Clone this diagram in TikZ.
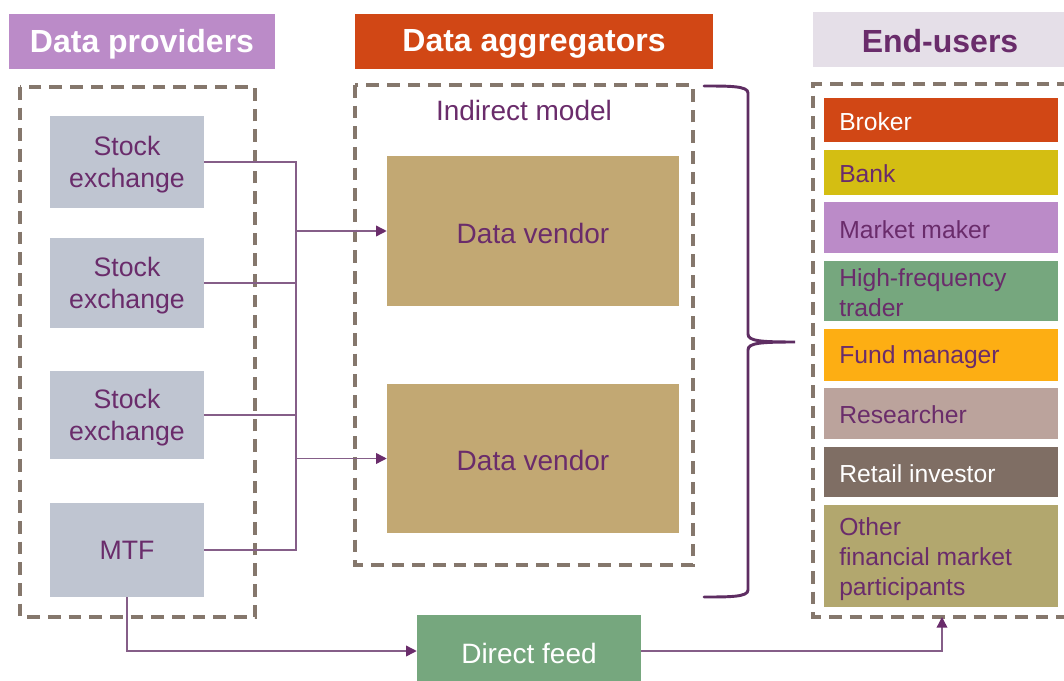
\documentclass[tikz,border=0pt]{standalone}
\usepackage{fontspec}
\setmainfont{Liberation Sans}
\usetikzlibrary{arrows.meta}
\definecolor{provC}{HTML}{BB8BC8}
\definecolor{aggC}{HTML}{D14715}
\definecolor{endC}{HTML}{E5DFE8}
\definecolor{seC}{HTML}{BFC5D1}
\definecolor{dvC}{HTML}{C2A873}
\definecolor{dfC}{HTML}{76A77E}
\definecolor{purp}{HTML}{6A2C6B}
\definecolor{lineC}{HTML}{855E88}
\definecolor{braceC}{HTML}{5E2D62}
\definecolor{dashC}{HTML}{85776C}
\definecolor{bankC}{HTML}{D4BE12}
\definecolor{fundC}{HTML}{FDAE13}
\definecolor{resC}{HTML}{BBA39C}
\definecolor{retC}{HTML}{7F6E64}
\definecolor{othC}{HTML}{B2A76E}
\tikzset{
  header/.style={inner sep=0pt, font=\fontsize{24}{28}\selectfont\bfseries},
  dashbox/.style={draw=dashC, line width=2.5pt, dash pattern=on 9.5pt off 6pt},
  sebox/.style={fill=seC, inner sep=0pt},
  setext/.style={inner sep=0pt, text=purp, align=center, font=\fontsize{20}{24}\selectfont},
  dvbox/.style={fill=dvC, inner sep=0pt},
  bigtext/.style={inner sep=0pt, font=\fontsize{21}{25}\selectfont},
  eubox/.style={inner sep=0pt},
  eutext/.style={anchor=west, inner sep=0pt, align=left, text=purp, font=\fontsize{18.5}{22.5}\selectfont},
  conn/.style={draw=lineC, line width=1.1pt},
  arr/.style={conn, -{Triangle[length=8pt,width=8pt,color=purp]}},
}
\begin{document}
\begin{tikzpicture}[x=0.75pt,y=-0.75pt]
\path[use as bounding box] (0,0) rectangle (1064,681);

% headers
\node[header, fill=provC, minimum width=266*0.75pt, minimum height=55*0.75pt] (hprov) at (142,41.5) {};
\node[header, text=white] at (142,44) {Data providers};
\node[header, fill=aggC, minimum width=358*0.75pt, minimum height=55*0.75pt] (hagg) at (534,41.5) {};
\node[header, text=white] at (534,44) {Data aggregators};
\node[header, fill=endC, minimum width=251*0.75pt, minimum height=55*0.75pt] (hend) at (938.5,39.5) {};
\node[header, text=purp] at (940,41) {End-users};

% dashed frames
\draw[dashbox] (20,87) rectangle (255,617);
\draw[dashbox] (355,85) rectangle (693,565);
\draw[dashbox] (1070,84) -- (813,84) -- (813,617) -- (1070,617);
\coordinate (euBottom) at (942,617);

% stock exchanges
\node[sebox, minimum width=154*0.75pt, minimum height=92*0.75pt] (se1) at (127,162) {};
\node[setext] at (127,165) {Stock\\exchange};
\node[sebox, minimum width=154*0.75pt, minimum height=90*0.75pt] (se2) at (127,283) {};
\node[setext] at (127,286) {Stock\\exchange};
\node[sebox, minimum width=154*0.75pt, minimum height=88*0.75pt] (se3) at (127,415) {};
\node[setext] at (127,418) {Stock\\exchange};
\node[sebox, minimum width=154*0.75pt, minimum height=94*0.75pt] (mtf) at (127,550) {};
\node[setext] at (127,550) {MTF};

% indirect model
\node[bigtext, text=purp] (ind) at (524,110) {Indirect model};
\node[dvbox, minimum width=292*0.75pt, minimum height=150*0.75pt] (dv1) at (533,231) {};
\node[bigtext, text=purp] at (533,233) {Data vendor};
\node[dvbox, minimum width=292*0.75pt, minimum height=149*0.75pt] (dv2) at (533,458.5) {};
\node[bigtext, text=purp] at (533,460.5) {Data vendor};

% bus connectors
\coordinate (busTop) at (296,162);
\coordinate (busBot) at (296,550);
\draw[conn] (se1.east) -- (busTop) -- (busBot) -- (mtf.east);
\draw[conn] (se2.east) -- (se2.east -| busTop);
\draw[conn] (se3.east) -- (se3.east -| busTop);
\draw[arr] (dv1.west -| busTop) -- (dv1.west);
\draw[arr] (dv2.west -| busTop) -- (dv2.west);

% brace
\node[inner sep=0pt] (tip) at (795,342) {};
\draw[draw=braceC, line width=2.2pt, line cap=round]
  (704,86) .. controls (730,86) and (748,86) .. (748,93) -- (748,334)
  .. controls (748,341) and (760,342) .. (tip.center)
  .. controls (760,342) and (748,343) .. (748,350) -- (748,590)
  .. controls (748,597) and (730,597) .. (704,597);

% end users
\node[eubox, fill=aggC, minimum width=234*0.75pt, minimum height=44*0.75pt] (eu1) at (941,120) {};
\node[eutext, text=white] at (839,122) {Broker};
\node[eubox, fill=bankC, minimum width=234*0.75pt, minimum height=45*0.75pt] (eu2) at (941,172.5) {};
\node[eutext] at (839,174) {Bank};
\node[eubox, fill=provC, minimum width=234*0.75pt, minimum height=51*0.75pt] (eu3) at (941,227.5) {};
\node[eutext] at (839,230) {Market maker};
\node[eubox, fill=dfC, minimum width=234*0.75pt, minimum height=60*0.75pt] (eu4) at (941,291) {};
\node[eutext] at (839,293) {High-frequency\\trader};
\node[eubox, fill=fundC, minimum width=234*0.75pt, minimum height=52*0.75pt] (eu5) at (941,355) {};
\node[eutext] at (839,357.5) {Fund manager};
\node[eubox, fill=resC, minimum width=234*0.75pt, minimum height=51*0.75pt] (eu6) at (941,413.5) {};
\node[eutext] at (839,415) {Researcher};
\node[eubox, fill=retC, minimum width=234*0.75pt, minimum height=50*0.75pt] (eu7) at (941,472) {};
\node[eutext, text=white] at (839,474) {Retail investor};
\node[eubox, fill=othC, minimum width=234*0.75pt, minimum height=102*0.75pt] (eu8) at (941,556) {};
\node[eutext] at (839,559) {Other\\financial market\\participants};

% direct feed
\node[fill=dfC, inner sep=0pt, minimum width=224*0.75pt, minimum height=72*0.75pt] (df) at (529,651) {};
\node[bigtext, text=white] at (529,653) {Direct feed};
\draw[arr] (mtf.south) |- (df.west);
\draw[arr] (df.east) -| (euBottom);
\end{tikzpicture}
\end{document}
